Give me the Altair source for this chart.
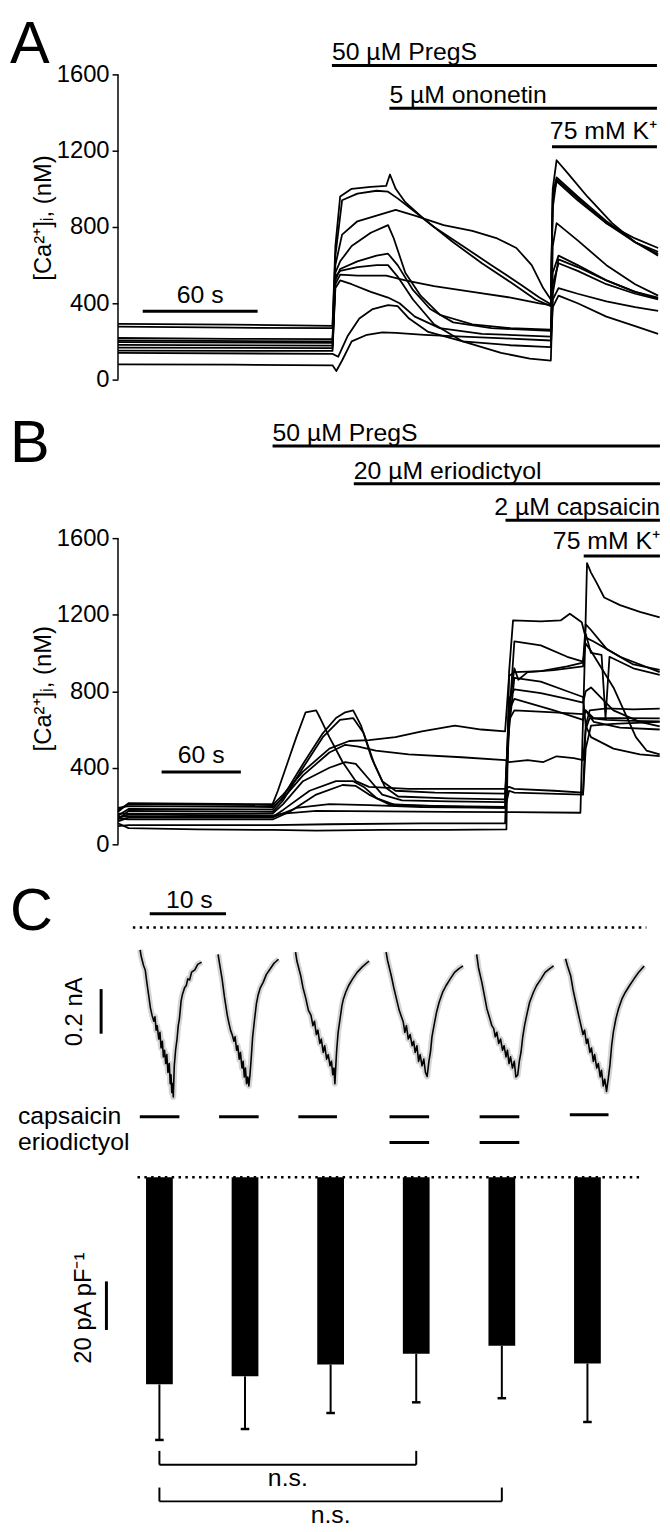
import altair as alt
import pandas as pd

FONT = "Liberation Sans"

# ======================= Panel A : [Ca2+]i traces (time in s, nM) =======================
A_X_DOMAIN = [0, 283]
A_Y_DOMAIN = [-831.2, 1600]
CA_TICKS = [0, 400, 800, 1200, 1600]

a01 = [(0,292),(60,288),(112,282),(113.5,700),(116,960),(122,1000),(132,1010),(140,1015),(142,1075),(145,1000),(150,930),(160,840),(175,720),(190,610),(205,510),(218,420),(226,385),(227,1000),(229,1150),(235,1080),(245,960),(258,820),(270,720),(282,670)]
a02 = [(0,278),(60,272),(112,270),(113.5,650),(117,940),(125,975),(135,990),(141,985),(146,950),(155,880),(165,800),(180,700),(195,600),(210,500),(220,430),(226,395),(227,980),(229,1060),(240,960),(255,830),(270,720),(282,650)]
a03 = [(0,218),(60,214),(112,212),(113.5,600),(117,760),(125,830),(135,860),(145,890),(155,860),(170,810),(185,780),(198,740),(208,690),(216,600),(222,480),(226,420),(227,950),(229,1040),(240,940),(255,820),(270,740),(282,690)]
a04 = [(0,205),(112,200),(113.5,560),(116,620),(122,700),(132,770),(141,810),(144,740),(150,560),(158,440),(168,340),(185,290),(205,270),(226,262),(227,700),(229,820),(240,730),(255,600),(270,500),(282,440)]
a05 = [(0,196),(112,192),(113.5,520),(116,580),(125,620),(135,650),(141,660),(146,600),(154,470),(163,370),(175,300),(195,270),(226,255),(227,560),(230,650),(240,600),(255,520),(270,460),(282,430)]
a06 = [(0,182),(112,178),(113.5,540),(116,570),(125,590),(135,600),(141,600),(146,540),(154,420),(165,290),(180,200),(200,140),(215,110),(226,100),(227,450),(230,630),(240,590),(255,520),(270,460),(282,425)]
a07 = [(0,168),(112,165),(113.5,500),(116,550),(125,545),(140,545),(150,520),(165,490),(185,460),(205,430),(220,400),(226,390),(227,900),(229,1050),(240,950),(255,820),(270,720),(282,660)]
a08 = [(0,152),(112,150),(113.5,480),(116,520),(122,500),(132,460),(141,430),(147,400),(155,330),(168,270),(190,240),(226,225),(227,420),(230,480),(240,450),(255,410),(270,380),(282,360)]
a09 = [(0,140),(112,135),(115,120),(120,230),(126,320),(133,370),(141,390),(146,385),(152,320),(162,250),(180,200),(205,180),(226,170),(227,380),(230,440),(240,400),(255,330),(270,280),(282,240)]
a10 = [(0,80),(60,78),(112,75),(114,45),(117,100),(122,200),(130,235),(138,248),(145,245),(160,235),(180,225),(205,215),(226,205),(227,500),(230,610),(240,570),(255,500),(270,450),(282,420)]
A_TRACES = {"a01": a01, "a02": a02, "a03": a03, "a04": a04, "a05": a05,
            "a06": a06, "a07": a07, "a08": a08, "a09": a09, "a10": a10}

a_drug_labels = ["50 µM PregS", "5 µM ononetin", "75 mM K⁺"]
a_drug_start = [111.7, 141.7, 226.6]
a_drug_end = [281.4, 281.4, 281.4]
a_drug_level = [1647, 1423, 1221]
a_drug_text_level = [1673, 1449, 1262]
a_drug_align = ["left", "left", "right"]

a_scale_label = "60 s"
a_scale_start, a_scale_end, a_scale_level, a_scale_text_level = 12.9, 72.9, 358, 400

# ======================= Panel B =======================
B_X_DOMAIN = [0, 410.25]
B_Y_DOMAIN = [-434.95, 1600]

b01 = [(0,110),(8,85),(60,78),(117,75),(150,72),(200,75),(250,76),(294,78),(296,900),(299,1170),(320,1165),(335,1170),(342,1205),(351,1160),(354,1080),(360,1060),(380,980),(410,900)]
b02 = [(0,140),(8,155),(117,150),(125,160),(150,175),(200,172),(250,170),(300,168),(350,165),(353,900),(355,1470),(358,1420),(362,1370),(368,1290),(380,1250),(395,1215),(410,1186)]
b03 = [(0,180),(8,210),(117,205),(125,260),(140,380),(160,500),(175,540),(190,545),(210,560),(230,590),(255,620),(275,600),(293,590),(296,880),(300,900),(320,905),(340,930),(352,950),(354,1150),(358,1120),(370,1020),(390,940),(410,911)]
b04 = [(0,190),(8,200),(117,195),(125,240),(140,360),(160,480),(172,520),(182,510),(195,490),(220,470),(260,455),(293,440),(296,430),(310,440),(322,430),(332,460),(345,450),(352,440),(354,600),(357,660),(370,650),(390,645),(410,642)]
b05 = [(0,170),(8,215),(117,210),(121,280),(128,420),(135,560),(142,690),(150,700),(153,660),(160,560),(170,430),(180,330),(190,300),(220,290),(260,290),(293,290),(296,300),(300,290),(330,280),(352,270),(354,620),(357,700),(370,710),(390,705),(410,709)]
b06 = [(0,150),(8,185),(117,182),(125,250),(140,420),(155,580),(165,660),(172,690),(178,700),(184,620),(192,450),(200,330),(210,280),(240,270),(293,265),(296,700),(300,920),(303,860),(310,900),(330,910),(352,930),(354,1100),(358,1000),(366,990),(369,660),(372,980),(390,920),(410,885)]
b07 = [(0,130),(8,175),(117,170),(125,230),(140,400),(155,560),(168,650),(178,660),(186,580),(194,420),(202,300),(212,250),(250,240),(293,235),(296,650),(300,1060),(320,1040),(340,980),(352,955),(354,1050),(358,1010),(375,820),(392,560),(400,490),(410,470)]
b08 = [(0,160),(8,160),(117,160),(125,210),(140,330),(160,400),(172,430),(180,420),(190,340),(200,260),(215,230),(250,225),(293,220),(296,760),(300,810),(320,790),(340,760),(352,740),(354,800),(358,820),(375,700),(395,640),(410,616)]
b09 = [(0,145),(8,145),(117,143),(125,180),(145,280),(165,330),(178,330),(186,300),(196,240),(210,205),(250,200),(293,195),(296,650),(300,700),(330,690),(352,680),(354,700),(360,660),(380,660),(410,658)]
b10 = [(0,135),(8,130),(117,130),(130,170),(150,260),(170,310),(180,305),(190,260),(205,210),(240,200),(293,190),(296,600),(300,870),(320,850),(340,800),(352,770),(354,620),(358,560),(375,500),(395,470),(410,461)]
b11 = [(0,120),(8,140),(117,140),(135,190),(160,210),(190,205),(230,195),(293,190),(296,280),(300,270),(352,260),(354,500),(358,620),(375,630),(410,640)]
b12 = [(0,95),(8,100),(117,100),(160,105),(230,110),(293,110),(296,700),(300,760),(330,700),(352,650),(354,700),(360,640),(380,610),(410,600)]
B_TRACES = {"b01": b01, "b02": b02, "b03": b03, "b04": b04, "b05": b05, "b06": b06,
            "b07": b07, "b08": b08, "b09": b09, "b10": b10, "b11": b11, "b12": b12}

b_drug_labels = ["50 µM PregS", "20 µM eriodictyol", "2 µM capsaicin", "75 mM K⁺"]
b_drug_start = [117, 178.5, 293.3, 352.5]
b_drug_end = [410.2, 410.2, 410.2, 410.2]
b_drug_level = [2081.6, 1884.8, 1693.2, 1506.8]
b_drug_text_level = [2107.4, 1910.7, 1719.1, 1543.0]
b_drug_align = ["left", "left", "right", "right"]

b_scale_label = "60 s"
b_scale_start, b_scale_end, b_scale_level, b_scale_text_level = 33, 93, 378, 424.6

# ======================= Panel C (top): current sweeps (s, nA) =======================
C1_X_DOMAIN = [-1.948, 69.09]
C1_Y_DOMAIN = [-1.12, 0]

s1 = [(0.95,-0.10),(1.1,-0.13),(1.4,-0.17),(1.62,-0.19),(1.85,-0.25),(2.08,-0.305),(2.3,-0.36),(2.52,-0.394),(2.75,-0.42),(2.9,-0.40),(3.05,-0.46),(3.19,-0.44),(3.4,-0.50),(3.55,-0.47),(3.7,-0.54),(3.87,-0.51),(4.0,-0.58),(4.15,-0.55),(4.31,-0.61),(4.45,-0.57),(4.6,-0.65),(4.77,-0.61),(4.9,-0.70),(5.0,-0.66),(5.1,-0.74),(5.21,-0.70),(5.3,-0.76),(5.43,-0.62),(5.6,-0.55),(5.79,-0.50),(5.95,-0.44),(6.10,-0.41),(6.32,-0.33),(6.5,-0.30),(6.78,-0.27),(7.0,-0.26),(7.2,-0.23),(7.44,-0.235),(7.7,-0.20),(8.12,-0.19),(8.5,-0.165),(9.01,-0.155)]
s2 = [(11.17,-0.12),(11.35,-0.16),(11.70,-0.231),(12.0,-0.31),(12.38,-0.394),(12.6,-0.43),(12.8,-0.46),(13.04,-0.483),(13.25,-0.51),(13.4,-0.49),(13.6,-0.55),(13.75,-0.53),(13.94,-0.59),(14.1,-0.56),(14.3,-0.63),(14.45,-0.60),(14.61,-0.67),(14.75,-0.63),(14.9,-0.70),(15.06,-0.67),(15.2,-0.71),(15.35,-0.66),(15.51,-0.587),(15.7,-0.49),(15.96,-0.409),(16.2,-0.34),(16.40,-0.305),(16.7,-0.27),(17.08,-0.246),(17.5,-0.21),(17.97,-0.187),(18.5,-0.16),(19.09,-0.142)]
s3 = [(21.32,-0.11),(21.5,-0.15),(22.0,-0.216),(22.3,-0.27),(22.68,-0.32),(23.0,-0.37),(23.35,-0.394),(23.6,-0.44),(23.8,-0.42),(24.05,-0.48),(24.25,-0.46),(24.5,-0.52),(24.7,-0.50),(24.95,-0.56),(25.14,-0.53),(25.4,-0.59),(25.6,-0.57),(25.85,-0.62),(26.03,-0.60),(26.2,-0.66),(26.35,-0.63),(26.48,-0.70),(26.60,-0.62),(26.70,-0.557),(26.9,-0.47),(27.16,-0.409),(27.4,-0.35),(27.60,-0.32),(27.9,-0.29),(28.27,-0.261),(28.8,-0.23),(29.39,-0.201),(30.1,-0.175),(30.96,-0.150)]
s4 = [(33.19,-0.11),(33.4,-0.15),(33.87,-0.216),(34.2,-0.27),(34.55,-0.32),(34.9,-0.37),(35.2,-0.40),(35.44,-0.424),(35.65,-0.47),(35.85,-0.44),(36.1,-0.50),(36.34,-0.48),(36.6,-0.53),(36.8,-0.51),(37.0,-0.56),(37.23,-0.53),(37.45,-0.60),(37.65,-0.57),(37.9,-0.62),(38.13,-0.59),(38.35,-0.65),(38.57,-0.668),(38.8,-0.60),(39.01,-0.557),(39.2,-0.49),(39.47,-0.439),(39.8,-0.38),(40.14,-0.335),(40.6,-0.29),(41.04,-0.261),(41.6,-0.23),(42.16,-0.201),(42.7,-0.185),(43.27,-0.172)]
s5 = [(45.06,-0.12),(45.3,-0.18),(45.74,-0.246),(46.1,-0.31),(46.40,-0.364),(46.8,-0.41),(47.05,-0.44),(47.30,-0.453),(47.5,-0.49),(47.7,-0.47),(47.95,-0.52),(48.19,-0.50),(48.45,-0.55),(48.65,-0.53),(48.9,-0.58),(49.09,-0.55),(49.3,-0.61),(49.5,-0.58),(49.75,-0.63),(49.99,-0.60),(50.2,-0.67),(50.44,-0.661),(50.65,-0.60),(50.88,-0.557),(51.1,-0.49),(51.34,-0.439),(51.7,-0.38),(52.0,-0.335),(52.5,-0.29),(52.9,-0.261),(53.5,-0.23),(54.03,-0.201),(54.6,-0.185),(55.14,-0.172)]
s6 = [(56.71,-0.14),(56.95,-0.17),(57.38,-0.216),(57.7,-0.28),(58.05,-0.335),(58.4,-0.39),(58.73,-0.439),(59.0,-0.48),(59.2,-0.46),(59.45,-0.52),(59.62,-0.50),(59.9,-0.56),(60.1,-0.54),(60.35,-0.60),(60.52,-0.57),(60.8,-0.63),(61.0,-0.61),(61.25,-0.67),(61.42,-0.64),(61.65,-0.71),(61.85,-0.68),(62.08,-0.735),(62.3,-0.68),(62.53,-0.616),(62.75,-0.53),(62.98,-0.468),(63.3,-0.41),(63.65,-0.364),(64.1,-0.32),(64.55,-0.290),(65.1,-0.26),(65.66,-0.231),(66.3,-0.20),(67.01,-0.172)]
C_SWEEPS = {"s1": s1, "s2": s2, "s3": s3, "s4": s4, "s5": s5, "s6": s6}

cap_start = [0.91, 11.30, 21.69, 33.64, 45.45, 57.27]
cap_end = [6.10, 16.49, 26.75, 38.83, 50.65, 62.34]
cap_level = [-0.849, -0.849, -0.849, -0.849, -0.849, -0.840]
erio_start = [33.64, 45.45]
erio_end = [38.83, 50.65]
erio_level = [-0.964, -0.964]

# ======================= Panel C (bottom): current density (pA/pF) =======================
C2_X_DOMAIN = [0.574, 6.79]
C2_Y_DOMAIN = [-140.41, 0]
cond = [1, 2, 3, 4, 5, 6]
density_mean = [-85.3, -82.0, -77.1, -72.7, -69.4, -76.7]
density_sem = [22.9, 21.7, 20.0, 20.0, 21.6, 24.1]
bracket_from = [1, 1]
bracket_to = [4, 5]
bracket_level = [-118.4, -133.5]
bracket_leg_top = [-112.7, -127.8]
bracket_text_level = [-123.9, -139.0]


# ======================= helpers =======================
def trace_frame(traces):
    rows = []
    for name, pts in traces.items():
        for k, (t, v) in enumerate(pts):
            rows.append({"trace": name, "k": k, "t": t, "v": v})
    return pd.DataFrame(rows)


def ca_axis():
    return alt.Axis(values=CA_TICKS, format="d", domain=False, grid=False, ticks=True,
                    tickSize=6, tickWidth=1.5, tickColor="black", labelFont=FONT,
                    labelFontSize=24, labelColor="black", labelPadding=3, title=None)


class Panel:
    def __init__(self, xd, yd, with_axis=False):
        self.xd, self.yd, self.with_axis = xd, yd, with_axis

    def X(self, field="t"):
        return alt.X(f"{field}:Q", scale=alt.Scale(domain=self.xd, nice=False, zero=False), axis=None)

    def Y(self, field="v"):
        ax = ca_axis() if self.with_axis else None
        return alt.Y(f"{field}:Q", scale=alt.Scale(domain=self.yd, nice=False, zero=False), axis=ax)

    def lines(self, df, width=1.8, color="black", opacity=1.0):
        return alt.Chart(df).mark_line(color=color, strokeWidth=width, strokeJoin="round",
                                       opacity=opacity).encode(
            x=self.X(), y=self.Y(), detail="trace:N", order="k:Q")

    def hrules(self, starts, ends, levels, width=3, dash=None):
        df = pd.DataFrame({"t": starts, "t2": ends, "v": levels})
        kw = dict(color="black", strokeWidth=width)
        if dash:
            kw["strokeDash"] = dash
        return alt.Chart(df).mark_rule(**kw).encode(x=self.X(), x2="t2:Q", y=self.Y())

    def vrules(self, xs, y1, y2, width=3):
        df = pd.DataFrame({"t": xs, "v": y1, "v2": y2})
        return alt.Chart(df).mark_rule(color="black", strokeWidth=width).encode(
            x=self.X(), y=self.Y(), y2="v2:Q")

    def texts(self, xs, ys, labels, size=25, align="left", baseline="alphabetic", angle=0):
        df = pd.DataFrame({"t": xs, "v": ys, "label": labels})
        kw = dict(font=FONT, fontSize=size, align=align, baseline=baseline, color="black")
        if angle:
            kw["angle"] = angle
        return alt.Chart(df).mark_text(**kw).encode(x=self.X(), y=self.Y(), text="label:N")

    def drugs(self, labels, starts, ends, levels, tlevels, aligns):
        layers = [self.hrules(starts, ends, levels)]
        for lab, s, e, tl, al in zip(labels, starts, ends, tlevels, aligns):
            layers.append(self.texts([s if al == "left" else e], [tl], [lab], align=al))
        return layers


# ======================= Panel A =======================
PA = Panel(A_X_DOMAIN, A_Y_DOMAIN, with_axis=True)
a_layers = [PA.lines(trace_frame(A_TRACES)),
            PA.vrules([0], [0], [1600], width=1.5)]
a_layers += PA.drugs(a_drug_labels, a_drug_start, a_drug_end, a_drug_level,
                     a_drug_text_level, a_drug_align)
a_layers += [PA.hrules([a_scale_start], [a_scale_end], [a_scale_level]),
             PA.texts([(a_scale_start + a_scale_end) / 2], [a_scale_text_level], [a_scale_label],
                      align="center"),
             PA.texts([-56.4], [1662], ["A"], size=60),
             PA.texts([-38.8], [847], ["[Ca²⁺]ᵢ, (nM)"], size=24, align="center",
                      baseline="middle", angle=270),
             # invisible corner mark: fixes the figure origin
             alt.Chart(pd.DataFrame({"t": [-62.08], "v": [1958.4]})).mark_point(
                 opacity=0, size=1, filled=True).encode(x=PA.X(), y=PA.Y())]
panel_a = alt.layer(*a_layers).properties(width=547, height=468)

# ======================= Panel B =======================
PB = Panel(B_X_DOMAIN, B_Y_DOMAIN, with_axis=True)
b_layers = [PB.lines(trace_frame(B_TRACES)),
            PB.vrules([0], [0], [1600], width=1.5)]
b_layers += PB.drugs(b_drug_labels, b_drug_start, b_drug_end, b_drug_level,
                     b_drug_text_level, b_drug_align)
b_layers += [PB.hrules([b_scale_start], [b_scale_end], [b_scale_level]),
             PB.texts([(b_scale_start + b_scale_end) / 2], [b_scale_text_level], [b_scale_label],
                      align="center"),
             PB.texts([-81.75], [1998.7], ["B"], size=60),
             PB.texts([-56.25], [813], ["[Ca²⁺]ᵢ, (nM)"], size=24, align="center",
                      baseline="middle", angle=270)]
panel_b = alt.layer(*b_layers).properties(width=547, height=393)

# ======================= Panel C top =======================
PC1 = Panel(C1_X_DOMAIN, C1_Y_DOMAIN)
c_df = trace_frame(C_SWEEPS)
c1_layers = [PC1.lines(c_df, width=6, color="#888888", opacity=0.35),
             PC1.lines(c_df, width=1.6, color="black"),
             PC1.hrules([0], [67.3], [0], width=2.5, dash=[2.5, 4.4]),
             PC1.hrules([2.21], [12.21], [0.062]),
             PC1.texts([7.4], [0.089], ["10 s"], align="center"),
             PC1.vrules([-4.16], [-0.276], [-0.476]),
             PC1.texts([-7.53], [-0.378], ["0.2 nA"], size=24, align="center",
                       baseline="middle", angle=270),
             PC1.hrules(cap_start, cap_end, cap_level),
             PC1.hrules(erio_start, erio_end, erio_level),
             PC1.texts([-15.06, -15.06], [-0.844, -0.964], ["capsaicin", "eriodictyol"],
                       size=25, baseline="middle"),
             PC1.texts([-16.1], [-0.013], ["C"], size=60)]
panel_c1 = alt.layer(*c1_layers).properties(width=547, height=252)

# ======================= Panel C bottom =======================
PC2 = Panel(C2_X_DOMAIN, C2_Y_DOMAIN)
bar_df = pd.DataFrame({"t": cond, "v": density_mean, "sem": density_sem, "zero": [0] * 6})
c2_bars = alt.Chart(bar_df).mark_bar(color="black", size=27).encode(
    x=PC2.X(), y=PC2.Y(), y2="zero:Q")
c2_err = alt.Chart(bar_df).transform_calculate(lo="datum.v - datum.sem").mark_rule(
    color="black", strokeWidth=2).encode(x=PC2.X(), y=PC2.Y(), y2="lo:Q")
c2_caps = alt.Chart(bar_df).transform_calculate(
    lo="datum.v - datum.sem", c1="datum.t - 0.05", c2="datum.t + 0.05").mark_rule(
    color="black", strokeWidth=2.5).encode(x=PC2.X("c1"), x2="c2:Q", y=PC2.Y("lo"))
c2_layers = [c2_bars, c2_err, c2_caps,
             PC2.hrules([0.744], [6.631], [0], width=2.5, dash=[2.5, 4.4]),
             PC2.vrules([0.381], [-42.9], [-62.9]),
             PC2.texts([0.119], [-53.9], ["20 pA pF⁻¹"], size=24, align="center",
                       baseline="middle", angle=270),
             PC2.hrules(bracket_from, bracket_to, bracket_level, width=2),
             PC2.vrules(bracket_from, bracket_leg_top, bracket_level, width=2),
             PC2.vrules(bracket_to, bracket_leg_top, bracket_level, width=2),
             PC2.texts([(a + b) / 2 for a, b in zip(bracket_from, bracket_to)],
                       bracket_text_level, ["n.s.", "n.s."], size=25, align="center",
                       baseline="middle")]
panel_c2 = alt.layer(*c2_layers).properties(width=547, height=344)

chart = (alt.vconcat(panel_a, panel_b, panel_c1, panel_c2, spacing=0, bounds="flush",
                     padding={"left": -10, "top": -10, "right": 0, "bottom": 0})
         .configure(font=FONT)
         .configure_view(stroke=None))

chart.save("out.html", embed_options={"renderer": "svg", "actions": False})
